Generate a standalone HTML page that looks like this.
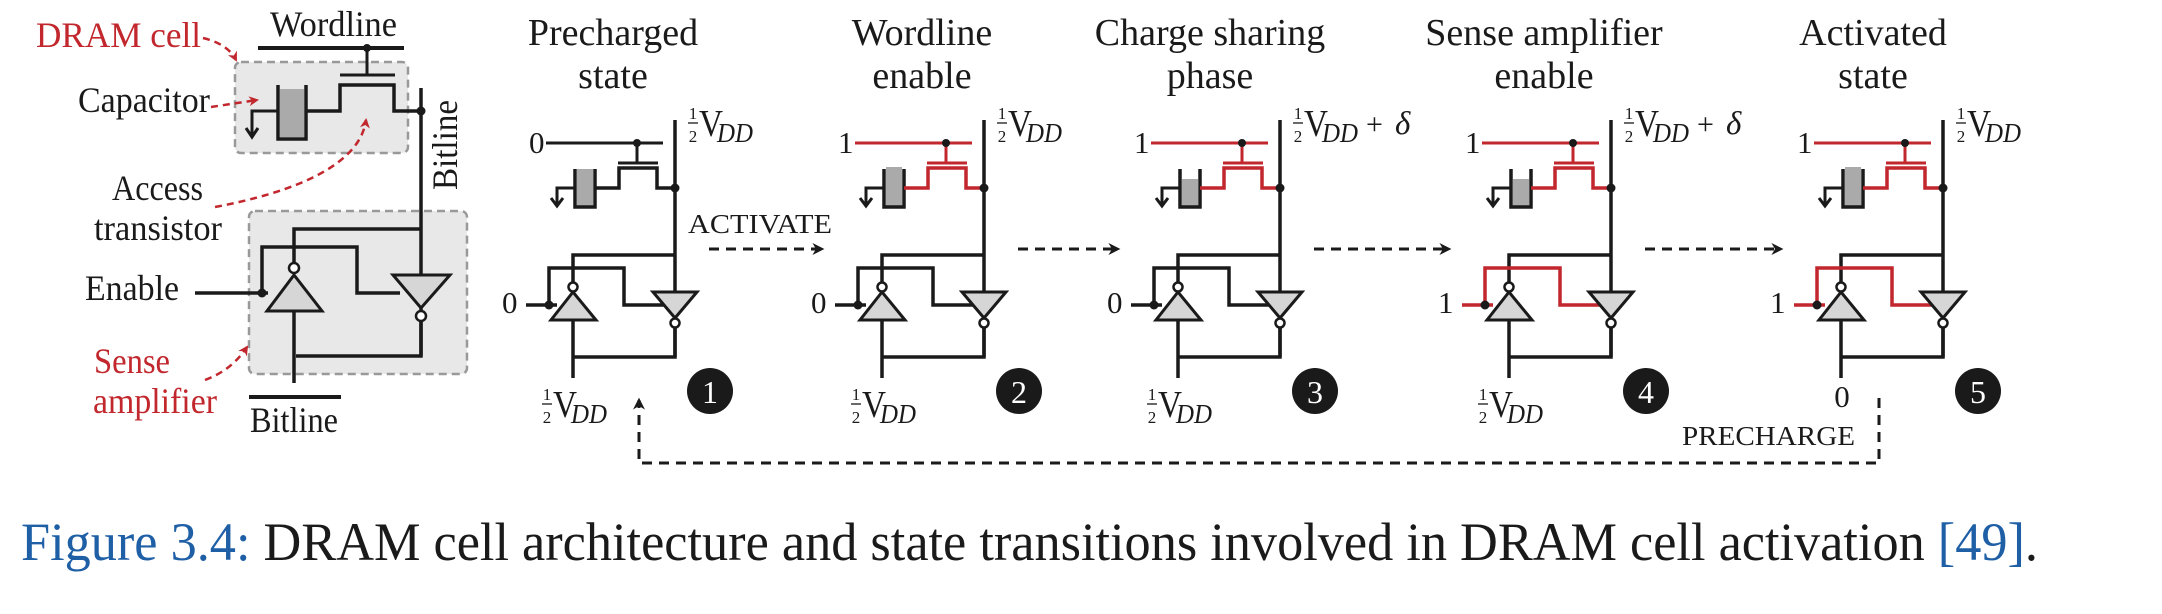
<!DOCTYPE html>
<html><head><meta charset="utf-8"><style>
html,body{margin:0;padding:0;background:#fff;}
svg{display:block;}
text{font-family:"Liberation Serif",serif;fill:#1a1a1a;}
</style></head><body>
<svg id="fig" width="2162" height="614" viewBox="0 0 2162 614" xmlns="http://www.w3.org/2000/svg">
<defs>
<marker id="ah" viewBox="0 0 10 10" refX="8" refY="5" markerWidth="4" markerHeight="4" orient="auto"><path d="M0,0 L10,5 L0,10 L3,5 z" fill="#1a1a1a"/></marker>
<marker id="ahr" viewBox="0 0 10 10" refX="8" refY="5" markerWidth="4" markerHeight="4" orient="auto"><path d="M0,0 L10,5 L0,10 L3,5 z" fill="#c1272d"/></marker>
</defs>
<g stroke-linecap="butt">
  <rect x="235" y="62" width="173" height="91" rx="6" fill="#e8e8e8" stroke="#999" stroke-width="2.5" stroke-dasharray="8,5"/>
  <rect x="249" y="211" width="218" height="163" rx="6" fill="#e8e8e8" stroke="#999" stroke-width="2.5" stroke-dasharray="8,5"/>
  <text x="36" y="47" font-size="36" style="fill:#c1272d" textLength="165" lengthAdjust="spacingAndGlyphs">DRAM cell</text>
  <text x="270" y="36" font-size="36" textLength="127" lengthAdjust="spacingAndGlyphs">Wordline</text>
  <text x="78" y="112" font-size="36" textLength="132" lengthAdjust="spacingAndGlyphs">Capacitor</text>
  <text x="112" y="200" font-size="36" textLength="91" lengthAdjust="spacingAndGlyphs">Access</text>
  <text x="94" y="240" font-size="36" textLength="128" lengthAdjust="spacingAndGlyphs">transistor</text>
  <text x="85" y="300" font-size="36" textLength="94" lengthAdjust="spacingAndGlyphs">Enable</text>
  <text x="94" y="373" font-size="36" style="fill:#c1272d" textLength="76" lengthAdjust="spacingAndGlyphs">Sense</text>
  <text x="93" y="413" font-size="36" style="fill:#c1272d" textLength="124" lengthAdjust="spacingAndGlyphs">amplifier</text>
  <text x="250" y="432" font-size="36" textLength="88" lengthAdjust="spacingAndGlyphs">Bitline</text>
  <text x="0" y="0" font-size="36" transform="translate(457,190) rotate(-90)" textLength="90" lengthAdjust="spacingAndGlyphs">Bitline</text>
  <g fill="none" stroke="#c1272d" stroke-width="2.5" stroke-dasharray="7,5">
    <path d="M203,38 Q228,44 236,60" marker-end="url(#ahr)"/>
    <path d="M211,107 L257,100" marker-end="url(#ahr)"/>
    <path d="M215,207 C295,192 360,165 366,120" marker-end="url(#ahr)"/>
    <path d="M205,380 Q232,370 247,347" marker-end="url(#ahr)"/>
  </g>
  <g fill="none" stroke="#1a1a1a" stroke-width="3.5">
    <path d="M258,48 H404" stroke-width="4"/>
    <path d="M367,48 V75 M340,75 H395" stroke-width="3"/>
    <rect x="280" y="89" width="24" height="48" fill="#aaa" stroke="none"/>
    <path d="M278,85 V139 H306 V85" />
    <path d="M306,111 H340 V85 H394 V111 H421"/>
    <path d="M278,111 H252 V136 M246,128 L252,137 L258,128" stroke-width="3"/>
    <path d="M421,88 V356"/>
    <path d="M294,264 V229 H421"/>
    <path d="M195,293 H268"/>
    <path d="M262,293 V247 H357 V293 H400"/>
    <path d="M294,311 V383 M296,356 H421 V321"/>
    <polygon points="294,275 267,311 322,311" fill="#d6d6d6" stroke-width="3"/>
    <polygon points="393,275 450,275 421,308" fill="#d6d6d6" stroke-width="3"/>
    <circle cx="294" cy="268" r="5" fill="#fff" stroke-width="2.5"/>
    <circle cx="421" cy="316" r="5" fill="#fff" stroke-width="2.5"/>
    <path d="M249,397 H341" stroke-width="4"/>
  </g>
  <g fill="#1a1a1a"><circle cx="367" cy="48" r="4"/><circle cx="421" cy="111" r="4.5"/><circle cx="262" cy="293" r="4.5"/></g>
</g>
<g id="panels"></g>
<g id="arrows"></g>
<text x="688" y="233" font-size="27" textLength="144" lengthAdjust="spacingAndGlyphs">ACTIVATE</text>
<g fill="none" stroke="#1a1a1a" stroke-width="3" stroke-dasharray="10,7">
  <path d="M1879,398 V463 H639 V400" marker-end="url(#ah)"/>
</g>
<text x="1682" y="445" font-size="27" textLength="173" lengthAdjust="spacingAndGlyphs">PRECHARGE</text>
<text x="21" y="560" font-size="54" textLength="2017" lengthAdjust="spacingAndGlyphs"><tspan style="fill:#1f5fa6">Figure 3.4:</tspan> DRAM cell architecture and state transitions involved in DRAM cell activation <tspan style="fill:#1f5fa6">[49]</tspan>.</text>
</svg>
<script>
const bitlineX = [675, 984, 1280, 1611, 1943];
const titles1 = ["Precharged","Wordline","Charge sharing","Sense amplifier","Activated"];
const titles2 = ["state","enable","phase","enable","state"];
const titleOffsets = [-62, -62, -70, -67, -70];
const wordVals = ["0","1","1","1","1"];
const inputVals = ["0","0","0","1","1"];
const topDelta = [false,false,true,true,false];
const bottomZero = [false,false,false,false,true];
const capFillTop = [169,167,179,179,167];
const wlRed = [false,true,true,true,true];
const loopRed = [false,false,false,true,true];
const RED = "#c1272d", BLK = "#1a1a1a";
function half(x, y, delta){
  let s = `<g>`+
  `<text x="${x+5}" y="${y-23}" font-size="17" text-anchor="middle">1</text>`+
  `<path d="M${x},${y-19} H${x+10}" stroke="${BLK}" stroke-width="1.3"/>`+
  `<text x="${x+5}" y="${y}" font-size="17" text-anchor="middle">2</text>`+
  `<text x="${x+11}" y="${y-6}" font-size="38" textLength="24" lengthAdjust="spacingAndGlyphs">V</text>`+
  `<text x="${x+29}" y="${y}" font-size="27" font-style="italic" textLength="36" lengthAdjust="spacingAndGlyphs">DD</text>`;
  if (delta) s += `<text x="${x+73}" y="${y-8}" font-size="30">+</text><text x="${x+102}" y="${y-8}" font-size="33" font-style="italic">δ</text>`;
  return s + `</g>`;
}
let html = "";
for (let i = 0; i < bitlineX.length; i++){
  const B = bitlineX[i];
  const wc = wlRed[i] ? RED : BLK, lc = loopRed[i] ? RED : BLK;
  const tc = B + titleOffsets[i];
  html += `<g>`;
  html += `<text x="${tc}" y="45" font-size="38" text-anchor="middle">${titles1[i]}</text>`;
  html += `<text x="${tc}" y="88" font-size="38" text-anchor="middle">${titles2[i]}</text>`;
  html += `<g transform="translate(${B},0)" fill="none" stroke-linecap="butt">`;
  html += `<text x="-146" y="153" font-size="31" style="fill:${BLK}">${wordVals[i]}</text>`;
  html += `<path d="M-129,143 H-12" stroke="${wc}" stroke-width="3"/>`;
  html += `<path d="M-38,143 V163 M-57,163 H-17" stroke="${wc}" stroke-width="3"/>`;
  html += `<rect x="-98" y="${capFillTop[i]}" width="16" height="${206-capFillTop[i]}" fill="#aaa"/>`;
  html += `<path d="M-100,169 V207 H-80 V169" stroke="${BLK}" stroke-width="3.5"/>`;
  html += `<path d="M-100,188 H-118 V205 M-124,198 L-118,206 L-112,198" stroke="${BLK}" stroke-width="3"/>`;
  html += `<path d="M-80,188 H-56 V168 H-18 V188 H0" stroke="${wc}" stroke-width="3.5"/>`;
  html += `<path d="M0,120 V357" stroke="${BLK}" stroke-width="3.5"/>`;
  html += `<path d="M-102,287 V255 H0" stroke="${BLK}" stroke-width="3.5"/>`;
  html += `<path d="M-102,320 V378 M-102,357 H0 V327" stroke="${BLK}" stroke-width="3.5"/>`;
  html += `<path d="M-149,305 H-118 M-126,305 V268 H-51 V305 H-11" stroke="${lc}" stroke-width="3.5"/>`;
  html += `<polygon points="-102,292 -124,320 -79,320" fill="#d6d6d6" stroke="${BLK}" stroke-width="3"/>`;
  html += `<polygon points="-22,292 22,292 0,318" fill="#d6d6d6" stroke="${BLK}" stroke-width="3"/>`;
  html += `<circle cx="-102" cy="287" r="4.5" fill="#fff" stroke="${BLK}" stroke-width="2.5"/>`;
  html += `<circle cx="0" cy="323" r="4.5" fill="#fff" stroke="${BLK}" stroke-width="2.5"/>`;
  html += `<circle cx="-38" cy="143" r="4" fill="${BLK}"/><circle cx="0" cy="188" r="4.5" fill="${BLK}"/><circle cx="-126" cy="305" r="4.5" fill="${BLK}"/>`;
  html += `<text x="-173" y="313" font-size="31">${inputVals[i]}</text>`;
  html += half(13, 142, topDelta[i]);
  if (bottomZero[i]) html += `<text x="-101" y="407" font-size="31" text-anchor="middle">0</text>`;
  else html += half(-133, 423, false);
  html += `<g><circle cx="35" cy="391" r="23" fill="${BLK}"/><text x="35" y="403" font-size="32" text-anchor="middle" style="fill:#fff">${i+1}</text></g>`;
  html += `</g></g>`;
}
document.getElementById('panels').innerHTML = html;
let ah = "";
for (let i = 0; i < bitlineX.length - 1; i++){
  const x1 = bitlineX[i] + 34, x2 = bitlineX[i+1] - 162;
  ah += `<path d="M${x1},249 H${x2}" fill="none" stroke="${BLK}" stroke-width="3" stroke-dasharray="10,7" marker-end="url(#ah)"/>`;
}
document.getElementById('arrows').innerHTML = ah;
</script>
</body></html>
